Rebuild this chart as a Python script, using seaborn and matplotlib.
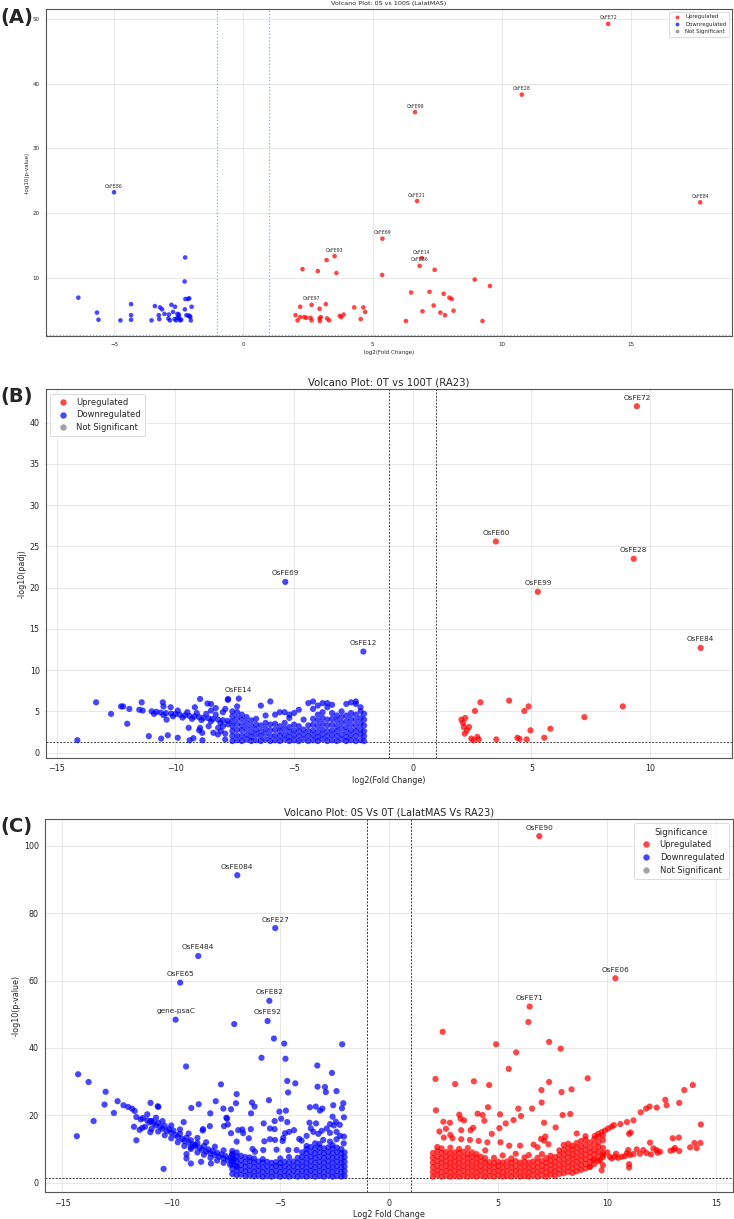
import matplotlib
matplotlib.use("Agg")
import matplotlib.pyplot as plt
from matplotlib.lines import Line2D
import pandas as pd
import seaborn as sns

# ------------------------------------------------------------------ data
# Panel A : 0S vs 100S (LalatMAS)   (log2FC, -log10 p)
a_up = [(2.02, 4.3), (2.10, 3.5), (2.20, 4.0), (2.20, 5.6), (2.29, 11.4), (2.36, 4.0), (2.44, 3.9),
        (2.60, 3.9), (2.64, 3.5), (2.64, 5.9), (2.88, 11.1), (2.95, 5.3), (2.95, 3.8), (2.96, 3.4),
        (3.00, 4.0), (3.19, 6.0), (3.22, 12.8), (3.24, 3.8), (3.32, 3.5), (3.53, 13.4), (3.60, 10.8),
        (3.73, 4.2), (3.79, 4.0), (3.88, 4.4), (4.29, 5.5), (4.54, 3.7), (4.64, 5.5), (4.71, 4.8),
        (14.11, 49.2), (10.77, 38.3), (6.64, 35.6), (6.72, 21.9), (17.67, 21.7), (5.38, 16.1),
        (6.90, 13.1), (6.82, 11.9), (7.40, 11.3), (5.37, 10.5), (8.95, 9.8), (9.54, 8.8), (6.49, 7.8),
        (7.20, 7.9), (7.75, 7.6), (7.97, 7.0), (8.06, 6.8), (7.36, 5.8), (6.93, 4.9), (7.62, 4.7),
        (7.80, 4.3), (8.13, 5.0), (6.29, 3.4), (9.25, 3.4)]
a_down = [(-5.00, 23.25), (-6.38, 7.0), (-5.66, 4.7), (-5.60, 3.6), (-4.75, 3.5), (-4.34, 6.0),
          (-4.34, 4.3), (-4.34, 3.6), (-3.55, 3.5), (-3.42, 5.7), (-3.27, 4.3), (-3.25, 3.7),
          (-3.22, 5.5), (-3.14, 5.2), (-3.05, 4.5), (-2.88, 4.4), (-2.84, 3.5), (-2.78, 5.9),
          (-2.72, 4.8), (-2.64, 5.6), (-2.66, 3.7), (-2.60, 3.5), (-2.55, 4.5), (-2.49, 4.4),
          (-2.48, 3.8), (-2.44, 3.5), (-2.25, 13.2), (-2.27, 9.5), (-2.24, 6.8), (-2.14, 6.8),
          (-2.09, 6.9), (-2.26, 5.2), (-2.20, 4.3), (-2.12, 4.2), (-2.05, 4.0), (-2.03, 3.5),
          (-2.00, 5.6), (-2.08, 4.2), (-2.55, 3.9), (-2.50, 4.1), (-2.40, 3.6), (-2.90, 3.8)]
a_labels = [("OsFE72", 14.11, 49.2), ("OsFE28", 10.77, 38.3), ("OsFE99", 6.64, 35.6),
            ("OsFE21", 6.72, 21.9), ("OsFE84", 17.67, 21.7), ("OsFE69", 5.38, 16.1),
            ("OsFE14", 6.90, 13.1), ("OsFE86", 6.82, 11.9), ("OsFE93", 3.53, 13.4),
            ("OsFE97", 2.64, 5.9), ("OsFE86", -5.00, 23.25)]

# Panel B : 0T vs 100T (RA23)   (log2FC, -log10 padj)
b_up = [(9.44, 42.0), (3.50, 25.6), (9.31, 23.5), (5.27, 19.5), (12.13, 12.7), (2.85, 6.1),
        (4.06, 6.3), (4.88, 5.6), (4.70, 5.05), (2.62, 5.05), (8.85, 5.6), (7.23, 4.3), (2.21, 4.2),
        (2.05, 4.0), (2.12, 3.6), (2.37, 3.1), (2.15, 3.1), (2.28, 2.7), (2.19, 2.3), (4.96, 2.7),
        (5.80, 2.9), (2.72, 1.9), (2.47, 1.7), (2.55, 1.5), (2.78, 1.6), (3.52, 1.6), (4.41, 1.8),
        (4.50, 1.65), (4.80, 1.6), (5.54, 1.8)]
b_down_scatter = [(-5.37, 20.7), (-2.08, 12.25), (-7.33, 6.55), (-14.13, 1.5), (-13.34, 6.1),
                  (-12.71, 4.7), (-12.29, 5.6), (-12.20, 5.6), (-12.03, 3.5), (-11.94, 5.3),
                  (-11.52, 5.2), (-11.42, 6.1), (-11.38, 5.1), (-10.53, 6.1), (-10.50, 5.6),
                  (-10.20, 5.5), (-10.37, 4.0), (-11.12, 2.0), (-10.60, 1.7), (-10.32, 2.1),
                  (-9.90, 1.8), (-9.44, 3.0), (-9.40, 1.5), (-9.24, 1.75), (-9.18, 5.5), (-8.96, 6.5),
                  (-8.96, 3.0), (-8.87, 2.4), (-8.86, 1.5), (-8.65, 5.95), (-8.50, 5.9), (-8.50, 5.1),
                  (-8.21, 2.2), (-8.08, 2.6), (-7.79, 6.4), (-7.78, 6.5),
                  (-11.0, 5.0), (-10.8, 4.95), (-10.62, 4.85), (-10.4, 4.8), (-10.18, 4.72),
                  (-10.0, 4.68), (-9.82, 4.6), (-9.6, 4.52), (-9.41, 4.45), (-9.2, 4.38),
                  (-9.0, 4.3), (-8.81, 4.22), (-8.6, 4.15), (-8.42, 4.08), (-8.2, 4.0), (-8.0, 3.93),
                  (-7.8, 3.85), (-10.9, 4.7), (-10.5, 4.55), (-10.1, 4.4), (-9.7, 4.25), (-9.3, 4.1),
                  (-8.9, 3.95), (-8.5, 3.8), (-8.1, 3.6), (-7.8, 3.45), (-9.9, 5.1), (-9.5, 4.9),
                  (-9.1, 4.8), (-8.7, 4.7), (-8.3, 4.6), (-8.0, 4.9), (-7.9, 5.3), (-8.3, 5.4),
                  (-9.0, 2.7), (-8.6, 3.2), (-8.4, 2.4), (-8.2, 3.0), (-7.9, 2.3), (-7.9, 1.6),
                  (-8.0, 3.2)]
b_down_cloud = [(-7.6, [1.4, 2.0, 2.6, 3.2, 3.8, 4.4, 5.0]), (-7.4, [1.5, 2.1, 2.8, 3.5, 4.2, 4.9, 5.6]),
                (-7.2, [1.4, 2.0, 2.7, 3.3, 4.0, 4.6]), (-7.0, [1.6, 2.2, 2.9, 3.6, 4.3]),
                (-6.8, [1.4, 1.9, 2.5, 3.2, 3.9]), (-6.6, [1.5, 2.2, 2.8, 3.4, 4.1]),
                (-6.4, [1.4, 2.0, 2.6, 3.3, 5.7]), (-6.2, [1.6, 2.3, 2.9, 3.6, 4.5]),
                (-6.0, [1.4, 2.0, 2.7, 3.4, 6.2]), (-5.8, [1.5, 2.1, 2.8, 3.5, 4.6]),
                (-5.6, [1.4, 2.0, 2.6, 3.2, 4.9]), (-5.4, [1.6, 2.2, 2.9, 3.6, 4.9]),
                (-5.2, [1.4, 1.9, 2.5, 3.1, 4.6, 4.2]), (-5.0, [1.5, 2.1, 2.7, 3.4, 4.8]),
                (-4.8, [1.4, 2.0, 2.6, 3.2, 5.2]), (-4.6, [1.6, 2.2, 2.8, 4.0]),
                (-4.4, [1.4, 2.0, 2.6, 3.3, 6.0]), (-4.2, [1.5, 2.1, 2.7, 3.4, 4.1, 5.3, 6.2]),
                (-4.0, [1.4, 1.9, 2.5, 3.2, 3.9, 4.6, 5.7]), (-3.8, [1.6, 2.2, 2.8, 3.5, 4.2, 4.9, 6.0]),
                (-3.6, [1.4, 2.0, 2.6, 3.3, 4.0, 5.5, 6.0]), (-3.4, [1.5, 2.1, 2.7, 3.4, 4.1, 4.8, 5.8]),
                (-3.2, [1.4, 2.0, 2.6, 3.2, 3.9, 4.5]), (-3.0, [1.6, 2.2, 2.9, 3.6, 4.3, 5.0]),
                (-2.8, [1.4, 1.9, 2.5, 3.1, 3.8, 4.5, 5.9]), (-2.6, [1.5, 2.1, 2.7, 3.4, 4.1, 4.8, 6.1]),
                (-2.4, [1.4, 2.0, 2.6, 3.2, 3.9, 4.6, 5.9, 6.2]), (-2.2, [1.5, 2.2, 2.8, 3.5, 4.2, 5.0, 5.5]),
                (-2.05, [1.4, 2.0, 2.6, 3.3, 4.0, 4.7])]
b_labels = [("OsFE72", 9.44, 42.0), ("OsFE60", 3.50, 25.6), ("OsFE28", 9.31, 23.5),
            ("OsFE99", 5.27, 19.5), ("OsFE84", 12.13, 12.7), ("OsFE69", -5.37, 20.7),
            ("OsFE12", -2.08, 12.25), ("OsFE14", -7.33, 6.55)]

# Panel C : 0S vs 0T (LalatMAS vs RA23)   (log2FC, -log10 p)
c_down_scatter = [(-6.97, 91.3), (-5.23, 75.6), (-8.76, 67.3), (-9.59, 59.4), (-5.50, 54.0),
                  (-9.80, 48.4), (-5.58, 48.0),
                  (-7.11, 47.1), (-5.29, 42.8), (-4.82, 41.3), (-2.16, 41.1), (-5.86, 37.1), (-4.76, 36.8),
                  (-9.32, 34.5), (-3.30, 34.8), (-14.27, 32.2), (-13.79, 29.9), (-2.63, 32.6), (-4.68, 30.2),
                  (-4.31, 29.5), (-7.72, 29.2), (-13.01, 27.0), (-7.00, 26.3), (-5.52, 24.5), (-4.64, 26.8),
                  (-3.29, 28.5), (-2.95, 28.4), (-2.91, 26.9), (-2.42, 27.2), (-12.46, 24.2), (-13.06, 23.2),
                  (-12.63, 20.7), (-13.56, 18.3), (-14.33, 13.8), (-10.35, 4.1), (-10.95, 23.7),
                  (-10.59, 22.5), (-10.62, 22.7), (-9.08, 22.2), (-8.74, 23.3), (-7.96, 24.2), (-7.61, 22.0),
                  (-7.26, 21.8), (-7.03, 23.6), (-7.44, 19.0), (-8.21, 20.6), (-8.54, 15.9), (-8.23, 16.8),
                  (-7.58, 16.8), (-7.26, 14.7), (-6.93, 15.6), (-6.74, 15.8), (-6.35, 15.9),
                  (-11.98, 22.5), (-11.80, 22.0), (-11.68, 21.3), (-12.19, 23.0), (-10.93, 18.3),
                  (-10.96, 15.0), (-11.60, 12.6), (-11.45, 15.7), (-11.33, 16.3), (-11.71, 16.6),
                  (-9.43, 18.0), (-8.56, 15.5), (-7.47, 19.3), (-7.40, 17.3), (-9.10, 5.7), (-9.30, 7.2),
                  (-8.63, 6.2), (-8.18, 5.7), (-9.30, 8.5), (-9.10, 10.5), (-8.90, 11.2),
                  (-6.34, 20.6), (-6.30, 23.8), (-6.18, 22.6), (-5.76, 17.6), (-5.26, 18.3), (-5.04, 21.1),
                  (-4.74, 21.4), (-4.96, 19.0), (-4.68, 18.0), (-3.64, 22.4), (-3.37, 22.6), (-3.18, 21.4),
                  (-3.07, 22.0), (-2.57, 23.0), (-2.11, 23.6), (-2.17, 22.1), (-2.60, 19.6), (-2.45, 18.1),
                  (-2.72, 17.4), (-2.54, 17.0), (-3.66, 17.8), (-3.36, 17.6), (-3.60, 16.1), (-4.37, 15.6),
                  (-5.47, 16.1), (-5.26, 15.9), (-4.86, 13.3), (-4.78, 14.7), (-4.59, 15.1), (-4.13, 13.0),
                  (-4.02, 12.5), (-3.79, 13.9), (-3.48, 15.1), (-3.25, 14.5), (-3.10, 15.4), (-2.87, 16.1),
                  (-2.72, 14.8), (-2.42, 15.1), (-2.26, 13.9), (-2.08, 13.7), (-5.73, 12.3), (-5.47, 12.9),
                  (-5.24, 12.7), (-4.89, 12.4), (-6.70, 14.7), (-6.44, 13.2), (-7.00, 12.2), (-6.27, 10.0),
                  (-6.16, 9.2), (-5.78, 9.7), (-5.17, 9.8), (-4.63, 9.7), (-4.25, 9.7), (-3.79, 10.9),
                  (-3.40, 11.7), (-3.03, 12.7), (-2.72, 12.2), (-2.42, 12.9), (-2.09, 11.7), (-2.08, 19.4),
                  (-2.27, 17.2)]
c_down_band = [(-11.6, 19.5), (-11.4, 18.8), (-11.3, 19.2), (-11.1, 18.5), (-11.0, 17.9), (-10.9, 18.3),
               (-10.8, 17.6), (-10.7, 17.0), (-10.6, 17.8), (-10.5, 16.6), (-10.4, 16.0), (-10.3, 16.9),
               (-10.2, 15.4), (-10.1, 15.9), (-10.0, 14.8), (-9.9, 15.5), (-9.8, 14.2), (-9.7, 13.6),
               (-9.6, 14.5), (-9.5, 13.0), (-9.4, 12.4), (-9.3, 13.4), (-9.2, 11.9), (-9.1, 12.6),
               (-9.0, 11.3), (-8.9, 10.8), (-8.8, 11.8), (-8.7, 10.4), (-8.6, 9.8), (-8.5, 10.9),
               (-8.4, 9.3), (-8.3, 9.9), (-8.2, 8.7), (-8.1, 9.4), (-8.0, 8.2), (-7.9, 8.9), (-7.8, 7.7),
               (-7.7, 8.4), (-7.6, 7.2), (-7.5, 7.9), (-7.4, 6.7), (-7.3, 7.4), (-7.2, 6.2), (-7.1, 6.9),
               (-11.2, 16.6), (-10.9, 16.0), (-10.6, 15.2), (-10.3, 14.1), (-10.0, 13.2), (-9.7, 12.0),
               (-9.4, 10.9), (-9.1, 10.0), (-8.8, 9.0), (-8.5, 8.3), (-8.2, 7.4), (-7.9, 6.6), (-7.6, 5.9),
               (-7.3, 5.3), (-7.0, 4.8), (-11.1, 20.3), (-10.7, 19.3), (-10.4, 18.3), (-10.0, 17.0),
               (-9.6, 15.8), (-9.2, 14.6), (-8.8, 13.3), (-8.4, 12.0), (-8.0, 10.7), (-7.6, 9.6), (-7.2, 8.6)]
c_down_cloud = [(-7.2, [2.6, 4.0, 5.4, 6.8, 8.2, 9.4]), (-7.0, [2.2, 3.6, 5.0, 6.4, 7.8, 9.0]),
                (-6.8, [2.4, 3.8, 5.2, 6.6, 8.0]), (-6.6, [2.0, 3.4, 4.8, 6.2, 7.6]),
                (-6.4, [2.2, 3.6, 5.0, 6.4, 7.5]), (-6.2, [1.9, 3.3, 4.7, 6.1, 7.2]),
                (-6.0, [2.1, 3.5, 4.9, 6.3]), (-5.8, [1.8, 3.2, 4.6, 6.0, 7.0]),
                (-5.6, [2.0, 3.4, 4.8, 6.2]), (-5.4, [1.8, 3.2, 4.6, 5.9]),
                (-5.2, [2.1, 3.5, 4.9, 6.1]), (-5.0, [1.8, 3.2, 4.6, 5.8, 7.2]),
                (-4.8, [2.0, 3.4, 4.8, 6.2]), (-4.6, [1.8, 3.2, 4.6, 6.0, 7.6]),
                (-4.4, [2.1, 3.5, 4.9, 6.3]), (-4.2, [1.8, 3.2, 4.6, 6.0, 7.4]),
                (-4.0, [2.0, 3.4, 4.8, 6.2, 7.6, 9.0]), (-3.8, [1.8, 3.2, 4.6, 6.0, 7.4, 8.8, 10.0]),
                (-3.6, [2.1, 3.5, 4.9, 6.3, 7.7, 9.1, 10.6]), (-3.4, [1.8, 3.2, 4.6, 6.0, 7.4, 8.8, 10.2]),
                (-3.2, [2.0, 3.4, 4.8, 6.2, 7.6, 9.0, 10.4, 11.5]), (-3.0, [1.8, 3.2, 4.6, 6.0, 7.4, 8.8, 10.2]),
                (-2.8, [2.1, 3.5, 4.9, 6.3, 7.7, 9.1, 10.5]), (-2.6, [1.8, 3.2, 4.6, 6.0, 7.4, 8.8, 10.2, 11.2]),
                (-2.4, [2.0, 3.4, 4.8, 6.2, 7.6, 9.0, 10.4]), (-2.2, [1.8, 3.2, 4.6, 6.0, 7.4, 8.8, 10.0]),
                (-2.05, [2.0, 3.4, 4.8, 6.2, 7.6, 9.0])]
c_up_scatter = [(6.88, 102.9), (10.37, 60.7), (6.44, 52.3),
                (6.38, 47.7), (2.45, 44.8), (4.90, 41.1), (7.33, 41.8), (7.86, 39.8), (5.82, 38.7),
                (5.48, 33.8), (9.10, 31.0), (2.12, 30.8), (3.02, 29.3), (3.88, 30.1), (4.58, 29.0),
                (7.33, 29.9), (6.98, 27.5), (7.90, 26.9), (8.36, 27.7), (13.92, 29.0), (13.53, 27.5),
                (12.66, 24.6), (13.30, 23.7), (14.29, 17.3), (14.27, 11.8), (14.10, 10.3), (13.28, 13.4),
                (13.10, 10.3), (13.30, 9.4), (11.20, 18.5), (11.07, 14.9), (10.60, 17.4), (10.30, 17.1),
                (10.20, 16.6), (11.53, 20.9), (11.78, 22.0), (11.94, 22.6), (12.27, 22.3), (12.72, 23.0),
                (7.95, 20.1), (8.30, 20.4), (2.14, 21.5), (2.48, 18.1), (2.78, 17.8), (3.21, 20.2),
                (3.27, 19.0), (3.43, 18.5), (4.05, 20.5), (4.28, 20.1), (4.36, 18.4), (4.53, 22.4),
                (5.08, 20.3), (5.92, 22.0), (6.04, 19.8), (6.55, 22.0), (6.99, 23.8), (7.10, 17.8),
                (7.63, 16.4), (2.30, 15.2), (2.60, 16.0), (2.80, 14.2), (3.30, 15.6), (3.73, 15.6),
                (3.85, 16.3), (4.70, 14.5), (5.05, 16.2), (5.34, 17.6), (5.70, 18.6), (6.96, 13.0),
                (7.16, 13.7), (6.62, 11.3), (11.00, 14.5), (13.00, 13.2), (12.90, 9.5), (13.05, 9.8),
                (13.80, 10.5), (14.00, 11.8), (11.00, 4.5), (2.5, 13.4), (2.9, 13.2), (3.3, 12.9),
                (3.7, 12.7), (4.1, 12.4), (4.5, 12.0), (5.1, 12.0), (5.5, 11.0), (6.0, 11.0), (6.8, 10.5),
                (7.1, 12.5), (7.3, 11.4), (9.0, 13.8), (8.6, 14.6),
                (9.43, 13.9), (9.58, 14.5), (9.74, 15.0), (9.89, 15.5), (10.04, 16.1), (10.9, 18.0),
                (10.12, 7.7), (10.35, 7.7), (10.66, 7.7), (10.96, 9.7), (11.35, 9.9), (11.65, 9.7),
                (11.96, 11.9), (12.11, 10.2), (12.26, 9.7), (12.42, 9.2), (11.04, 8.2), (10.81, 7.9),
                (10.50, 7.4), (10.20, 7.2), (9.82, 8.2), (9.66, 6.7), (9.36, 6.7), (9.20, 4.7), (9.74, 3.7),
                (11.00, 5.5), (10.40, 8.6), (10.90, 8.8), (11.20, 8.5), (11.50, 8.6), (11.80, 8.8),
                (12.00, 8.4), (12.30, 8.9), (10.00, 9.0)]
c_up_cloud = [(2.0, [1.8, 3.2, 4.6, 6.0, 7.4, 8.8]), (2.2, [2.2, 3.6, 5.0, 6.4, 7.8, 9.4, 10.6]),
              (2.4, [1.8, 3.2, 4.6, 6.0, 7.4, 8.8, 10.2]), (2.6, [2.1, 3.5, 4.9, 6.3, 7.7, 9.1]),
              (2.8, [1.8, 3.2, 4.6, 6.0, 7.4, 8.8, 10.4]), (3.0, [2.0, 3.4, 4.8, 6.2, 7.6, 9.0]),
              (3.2, [1.8, 3.2, 4.6, 6.0, 7.4, 8.8, 10.0]), (3.4, [2.1, 3.5, 4.9, 6.3, 7.7, 9.2]),
              (3.6, [1.8, 3.2, 4.6, 6.0, 7.4, 8.6, 10.3]), (3.8, [2.0, 3.4, 4.8, 6.2, 7.6, 9.0]),
              (4.0, [1.8, 3.2, 4.6, 6.0, 7.4, 8.5]), (4.2, [2.1, 3.5, 4.9, 6.3, 7.7]),
              (4.4, [1.8, 3.2, 4.6, 6.0, 7.3, 9.6]), (4.6, [2.0, 3.4, 4.8, 6.1]),
              (4.8, [1.8, 3.2, 4.6, 5.9, 7.4]), (5.0, [2.1, 3.5, 4.9, 6.2]),
              (5.2, [1.8, 3.2, 4.6, 6.0, 8.1]), (5.4, [2.0, 3.4, 4.8, 6.3]),
              (5.6, [1.8, 3.2, 4.6, 5.9, 7.2]), (5.8, [2.1, 3.5, 4.9, 6.4, 8.6]),
              (6.0, [1.8, 3.2, 4.6, 6.0]), (6.2, [2.0, 3.4, 4.8, 6.2, 7.5]),
              (6.4, [1.8, 3.2, 4.6, 6.0, 8.2]), (6.6, [2.1, 3.5, 4.9, 6.3]),
              (6.8, [1.8, 3.2, 4.6, 6.0, 7.4]), (7.0, [2.2, 3.6, 5.0, 6.4, 8.5]),
              (7.2, [1.8, 3.2, 4.6, 6.0, 7.3]), (7.4, [2.4, 3.8, 5.2, 6.6, 8.0]),
              (7.6, [2.0, 3.4, 4.8, 6.2, 7.6]), (7.8, [2.6, 4.0, 5.4, 6.8, 8.2, 9.6]),
              (8.0, [2.8, 4.2, 5.6, 7.0, 8.4, 9.8, 11.2]), (8.2, [3.2, 4.6, 6.0, 7.4, 8.8, 10.2, 11.6]),
              (8.4, [2.9, 4.3, 5.7, 7.1, 8.5, 9.9, 11.0]), (8.6, [3.4, 4.8, 6.2, 7.6, 9.0, 10.4, 11.8]),
              (8.8, [3.8, 5.2, 6.6, 8.0, 9.4, 10.8, 12.4]), (9.0, [4.2, 5.6, 7.0, 8.4, 9.8, 11.2, 12.8]),
              (9.2, [4.7, 6.2, 7.6, 9.0, 10.4, 12.0]), (9.4, [5.5, 7.0, 8.4, 9.8, 11.4, 13.0]),
              (9.6, [6.4, 7.8, 9.2, 10.6, 12.0, 13.6]), (9.8, [5.2, 7.6, 8.9, 10.4, 12.6, 14.0])]
c_labels = [("OsFE084", -6.97, 91.3), ("OsFE27", -5.23, 75.6), ("OsFE484", -8.76, 67.3),
            ("OsFE65", -9.59, 59.4), ("OsFE82", -5.50, 54.0), ("gene-psaC", -9.80, 48.4),
            ("OsFE92", -5.58, 48.0), ("OsFE90", 6.88, 102.9), ("OsFE06", 10.37, 60.7),
            ("OsFE71", 6.44, 52.3)]

ORDER = ["Upregulated", "Downregulated", "Not Significant"]
PALETTE = {"Upregulated": "red", "Downregulated": "blue", "Not Significant": "gray"}


def expand(cols):
    return [(x, y) for x, ys in cols for y in ys]


def frame(up, down):
    rows = [(x, y, "Upregulated") for x, y in up] + [(x, y, "Downregulated") for x, y in down]
    return pd.DataFrame(rows, columns=["log2fc", "nlp", "sig"])


def volcano(ax, df, labels, title, xlabel, ylabel, xlim, ylim, xticks, yticks, s,
            fs_tick, fs_lab, fs_title, fs_ann, lcolor, lls, lw, leg_loc, leg_fs,
            leg_ms, leg_title=None, ann_off=4):
    sns.scatterplot(data=df, x="log2fc", y="nlp", hue="sig", hue_order=ORDER,
                    palette=PALETTE, s=s, alpha=0.72, edgecolor="none", linewidth=0,
                    ax=ax, legend=False, zorder=3)
    ax.axhline(1.3, color=lcolor, ls=lls, lw=lw, zorder=2)
    ax.axvline(-1, color=lcolor, ls=lls, lw=lw, zorder=2)
    ax.axvline(1, color=lcolor, ls=lls, lw=lw, zorder=2)
    for name, x, y in labels:
        ax.annotate(name, (x, y), xytext=(0, ann_off), textcoords="offset points",
                    ha="center", va="bottom", fontsize=fs_ann, zorder=4)
    ax.set_xlim(*xlim)
    ax.set_ylim(*ylim)
    ax.set_xticks(xticks)
    ax.set_yticks(yticks)
    ax.grid(True, color="#d9d9d9", lw=0.6, alpha=0.7, zorder=0)
    ax.set_axisbelow(True)
    ax.tick_params(labelsize=fs_tick, length=2.5, width=0.6, pad=2)
    ax.set_title(title, fontsize=fs_title, pad=3)
    ax.set_xlabel(xlabel, fontsize=fs_lab, labelpad=2)
    ax.set_ylabel(ylabel, fontsize=fs_lab, labelpad=2)
    for sp in ax.spines.values():
        sp.set_color("#555555")
        sp.set_linewidth(0.8)
    handles = [Line2D([], [], marker="o", ls="", color=PALETTE[k], alpha=0.72,
                      markersize=leg_ms, markeredgewidth=0) for k in ORDER]
    leg = ax.legend(handles, ORDER, loc=leg_loc, fontsize=leg_fs, title=leg_title,
                    title_fontsize=leg_fs + 0.3, handletextpad=0.6, borderpad=0.5,
                    labelspacing=0.45, framealpha=0.8)
    leg.get_frame().set_linewidth(0.6)


sns.set_style("white")
plt.rcParams["font.family"] = ["DejaVu Sans"]

fig = plt.figure(figsize=(7.34, 12.19), dpi=100)
axA = fig.add_axes([0.0627, 0.7244, 0.9346, 0.2682])
axB = fig.add_axes([0.0627, 0.3780, 0.9346, 0.3026])
axC = fig.add_axes([0.0613, 0.0219, 0.9369, 0.3060])

volcano(axA, frame(a_up, a_down), a_labels, "Volcano Plot: 0S vs 100S (LalatMAS)",
        "log2(Fold Change)", "-log10(p-value)", (-7.63, 18.9), (1.1, 51.5),
        [-5, 0, 5, 10, 15], [10, 20, 30, 40, 50], 11, 4, 4, 4.6, 3.3,
        "#7fb4dc", ":", 0.9, "upper right", 3.9, 2.8, ann_off=2.5)
volcano(axB, frame(b_up, b_down_scatter + expand(b_down_cloud)), b_labels,
        "Volcano Plot: 0T vs 100T (RA23)", "log2(Fold Change)", "-log10(padj)",
        (-15.45, 13.45), (-0.68, 44.05), [-15, -10, -5, 0, 5, 10], list(range(0, 45, 5)),
        20, 5.8, 5.8, 7.3, 5.2, "#444444", (0, (2, 1.5)), 0.7, "upper left", 6, 4.6)
volcano(axC, frame(c_up_scatter + expand(c_up_cloud),
                   c_down_scatter + c_down_band + expand(c_down_cloud)), c_labels,
        "Volcano Plot: 0S Vs 0T (LalatMAS Vs RA23)", "Log2 Fold Change", "-log10(p-value)",
        (-15.79, 15.75), (-2.85, 107.9), [-15, -10, -5, 0, 5, 10, 15], [0, 20, 40, 60, 80, 100],
        20, 5.8, 5.8, 7.1, 5.3, "#333333", (0, (2, 1.5)), 0.7, "upper right", 6, 4.6,
        leg_title="Significance")

for lab, y in [("(A)", 0.986), ("(B)", 0.675), ("(C)", 0.3216)]:
    fig.text(0.0, y, lab, fontsize=14, fontweight="bold", ha="left", va="center")

fig.savefig("out.png", dpi=100)
